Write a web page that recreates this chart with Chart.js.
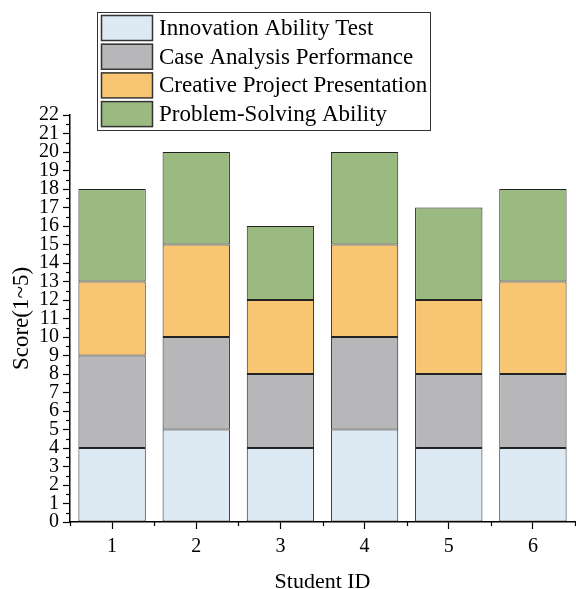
<!DOCTYPE html>
<html>
<head>
<meta charset="utf-8">
<script src="https://cdn.jsdelivr.net/npm/chart.js@4.4.1/dist/chart.umd.min.js"></script>
<style>
  html, body { margin: 0; padding: 0; background: #fff; }
  #wrap { width: 576px; height: 589px; position: relative; }
</style>
</head>
<body>
<div id="wrap"><canvas id="chart"></canvas></div>
<script>
// data
const studentIds = ['1', '2', '3', '4', '5', '6'];
const innovationTest = [4, 5, 4, 5, 4, 4];
const caseAnalysis = [5, 5, 4, 5, 4, 4];
const creativeProject = [4, 5, 4, 5, 4, 5];
const problemSolving = [5, 5, 4, 5, 5, 5];
const seriesNames = ['Innovation Ability Test', 'Case Analysis Performance', 'Creative Project Presentation', 'Problem-Solving Ability'];
const seriesColors = ['#dde9f3', '#b7b7b9', '#f8c672', '#9bba81'];

const FONT = '"Liberation Serif", "Times New Roman", serif';

// minor ticks + framed legend drawn on top
const extras = {
  id: 'extras',
  afterDraw(chart) {
    const ctx = chart.ctx;
    const x = chart.scales.x, y = chart.scales.y;
    ctx.save();
    ctx.strokeStyle = '#000';
    ctx.lineWidth = 1.2;
    // y minor ticks at half steps
    for (let v = 0.5; v < 22; v += 1) {
      const py = Math.round(y.getPixelForValue(v)) + 0.5;
      ctx.beginPath();
      ctx.moveTo(x.left - 4, py);
      ctx.lineTo(x.left, py);
      ctx.stroke();
    }
    // x minor ticks at category boundaries
    for (let i = 0; i <= studentIds.length; i++) {
      const px = Math.round(x.getPixelForValue(i - 0.5)) + 0.5;
      ctx.beginPath();
      ctx.moveTo(px, y.bottom);
      ctx.lineTo(px, y.bottom + 4);
      ctx.stroke();
    }

    // legend
    const lx = 97, ly = 12, lw = 333, lh = 118;
    ctx.fillStyle = '#fff';
    ctx.fillRect(lx, ly, lw, lh);
    ctx.strokeStyle = '#333';
    ctx.lineWidth = 1;
    ctx.strokeRect(lx + 0.5, ly + 0.5, lw, lh);
    ctx.font = '23px ' + FONT;
    ctx.textBaseline = 'middle';
    chart.data.datasets.forEach((ds, i) => {
      const ry = ly + 3 + i * 28.7;
      ctx.fillStyle = ds.backgroundColor;
      ctx.fillRect(lx + 4, ry, 51, 25);
      ctx.strokeStyle = '#333';
      ctx.lineWidth = 1.5;
      ctx.strokeRect(lx + 4.5, ry + 0.5, 51, 25);
      ctx.fillStyle = '#000';
      ctx.fillText(ds.label, lx + 62, ry + 14);
    });
    ctx.restore();
  }
};

const datasets = [innovationTest, caseAnalysis, creativeProject, problemSolving].map((vals, i) => ({
  label: seriesNames[i],
  data: vals,
  backgroundColor: seriesColors[i],
  borderColor: '#222',
  borderWidth: 1,
  borderSkipped: false,
  barPercentage: 0.8,
  categoryPercentage: 1.0
}));

new Chart(document.getElementById('chart'), {
  type: 'bar',
  data: { labels: studentIds, datasets: datasets },
  options: {
    responsive: true,
    maintainAspectRatio: false,
    animation: false,
    layout: { padding: { top: 115, right: 1, left: 0, bottom: 0 } },
    plugins: {
      legend: { display: false },
      tooltip: { enabled: false }
    },
    scales: {
      x: {
        stacked: true,
        offset: true,
        grid: { display: true, drawOnChartArea: false, offset: false, tickLength: 7, tickWidth: 1.2, tickColor: '#000' },
        border: { display: true, color: '#000', width: 1.5 },
        ticks: { color: '#000', font: { family: FONT, size: 20 }, padding: 6 },
        title: { display: true, text: 'Student ID', color: '#000', font: { family: FONT, size: 22 }, padding: { top: 16, bottom: -6 } },
        afterFit(scale) { scale.height = 67; }
      },
      y: {
        stacked: true,
        min: 0,
        max: 22,
        grid: { display: true, drawOnChartArea: false, tickLength: 7, tickWidth: 1.2, tickColor: '#000' },
        border: { display: true, color: '#000', width: 1.5 },
        ticks: { stepSize: 1, autoSkip: false, color: '#000', font: { family: FONT, size: 20 }, padding: 4 },
        title: { display: true, text: 'Score(1~5)', color: '#000', font: { family: FONT, size: 23 }, padding: { top: 8, bottom: 0 } },
        afterFit(scale) { scale.width = 70; }
      }
    }
  },
  plugins: [extras]
});
</script>
</body>
</html>
